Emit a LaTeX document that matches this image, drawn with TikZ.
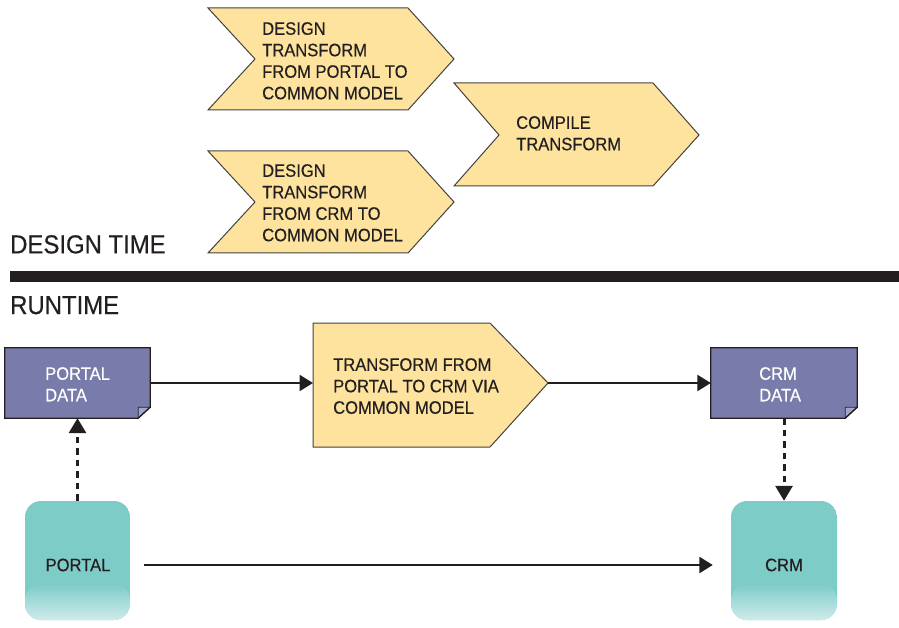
\documentclass[tikz,border=0pt]{standalone}
\usepackage{fontspec}
\setmainfont{Liberation Sans}[FakeStretch=0.92,FakeBold=0.35]
\usetikzlibrary{arrows.meta,calc}
\definecolor{chevfill}{HTML}{FDE39E}
\definecolor{datafill}{HTML}{797CAB}
\definecolor{foldfill}{HTML}{A3A5CB}
\definecolor{appfill}{HTML}{7ECCC8}
\definecolor{applight}{HTML}{CFEBEA}
\definecolor{ink}{HTML}{231F20}
\tikzset{
  chev/.style={fill=chevfill, draw=ink!85, line width=1pt, line join=miter},
  lbl/.style={inner sep=0pt, anchor=north west, align=left, text=ink,
              font=\fontsize{18}{21.5}\selectfont},
  datatxt/.style={lbl, text=white},
  headtxt/.style={inner sep=0pt, anchor=north west, text=ink,
              font=\fontsize{26}{30}\selectfont},
  databox/.style={inner sep=0pt, minimum height=70pt},
  appbox/.style={rounded corners=16pt, minimum height=119pt, inner sep=0pt,
    path picture={
      \fill[appfill] (path picture bounding box.south west) rectangle (path picture bounding box.north east);
      \shade[top color=appfill, bottom color=applight]
        ($(path picture bounding box.south west)+(0,-36)$) rectangle (path picture bounding box.south east);
    }},
  apptxt/.style={inner sep=0pt, text=ink, font=\fontsize{18}{21.5}\selectfont},
  flow/.style={draw=ink, line width=2.6pt, -{Triangle[length=13.5pt,width=16pt]}},
  dflow/.style={draw=ink, line width=3pt, dash pattern=on 6.5pt off 5pt,
                -{Triangle[length=15pt,width=17pt]}},
}
\begin{document}
\begin{tikzpicture}[x=1pt,y=-1pt]
\useasboundingbox (0,0) rectangle (899,628);

% design-time chevrons
\draw[chev] (208,8) -- (408,8) -- (454,59) -- (408,110) -- (208,110) -- (255,59) -- cycle;
\node[lbl] (dportal) at (262,22) {DESIGN\\TRANSFORM\\FROM PORTAL TO\\COMMON MODEL};
\draw[chev] (208,151) -- (408,151) -- (454,202) -- (408,253) -- (208,253) -- (255,202) -- cycle;
\node[lbl] (dcrm) at (262,164) {DESIGN\\TRANSFORM\\FROM CRM TO\\COMMON MODEL};
\draw[chev] (454,83) -- (653,83) -- (699,135) -- (653,186) -- (454,186) -- (499,135) -- cycle;
\node[lbl] (compile) at (516,116) {COMPILE\\TRANSFORM};

% section labels and divider
\node[headtxt] (designtime) at (10,235) {DESIGN TIME};
\fill[ink] (10,271) rectangle (899,282);
\node[headtxt] (runtime) at (10,296) {RUNTIME};

% runtime transform
\coordinate (xfin) at (313,383);
\coordinate (xftip) at (548,383);
\draw[chev] (313,323) -- (490,323) -- (xftip) -- (490,447) -- (313,447) -- cycle;
\node[lbl] (xftext) at (333,358) {TRANSFORM FROM\\PORTAL TO CRM VIA\\COMMON MODEL};

% data documents
\node[databox, minimum width=145pt] (pd) at (77.5,383) {};
\fill[datafill] (pd.north west) -- (pd.north east) -- ($(pd.south east)+(0,-11)$)
  -- ($(pd.south east)+(-12,0)$) -- (pd.south west) -- cycle;
\filldraw[fill=foldfill, draw=ink, line width=0.9pt] ($(pd.south east)+(0,-11)$)
  -- ($(pd.south east)+(-12,-11)$) -- ($(pd.south east)+(-12,0)$) -- cycle;
\draw[ink, line width=1.3pt, line join=miter] (pd.north west) -- (pd.north east) -- ($(pd.south east)+(0,-11)$)
  -- ($(pd.south east)+(-12,0)$) -- (pd.south west) -- cycle;
\node[datatxt] (pdtext) at (45,367) {PORTAL\\DATA};

\node[databox, minimum width=146pt] (cd) at (784,383) {};
\fill[datafill] (cd.north west) -- (cd.north east) -- ($(cd.south east)+(0,-11)$)
  -- ($(cd.south east)+(-12,0)$) -- (cd.south west) -- cycle;
\filldraw[fill=foldfill, draw=ink, line width=0.9pt] ($(cd.south east)+(0,-11)$)
  -- ($(cd.south east)+(-12,-11)$) -- ($(cd.south east)+(-12,0)$) -- cycle;
\draw[ink, line width=1.3pt, line join=miter] (cd.north west) -- (cd.north east) -- ($(cd.south east)+(0,-11)$)
  -- ($(cd.south east)+(-12,0)$) -- (cd.south west) -- cycle;
\node[datatxt] (cdtext) at (759,367) {CRM\\DATA};

% applications
\node[appbox, minimum width=105pt] (portal) at (77.5,560.5) {};
\node[apptxt] (portaltext) at (78,565) {PORTAL};
\node[appbox, minimum width=106pt] (crm) at (784,560.5) {};
\node[apptxt] (crmtext) at (784,565) {CRM};

% connectors
\draw[flow] (pd.east) -- (xfin);
\draw[flow] (xftip) -- (cd.west);
\draw[dflow] (portal.north) -- (pd.south);
\draw[dflow] (cd.south) -- (crm.north);
\draw[flow, shorten <=14pt, shorten >=18pt] (portal.east |- portaltext) -- (crm.west |- portaltext);
\end{tikzpicture}
\end{document}
